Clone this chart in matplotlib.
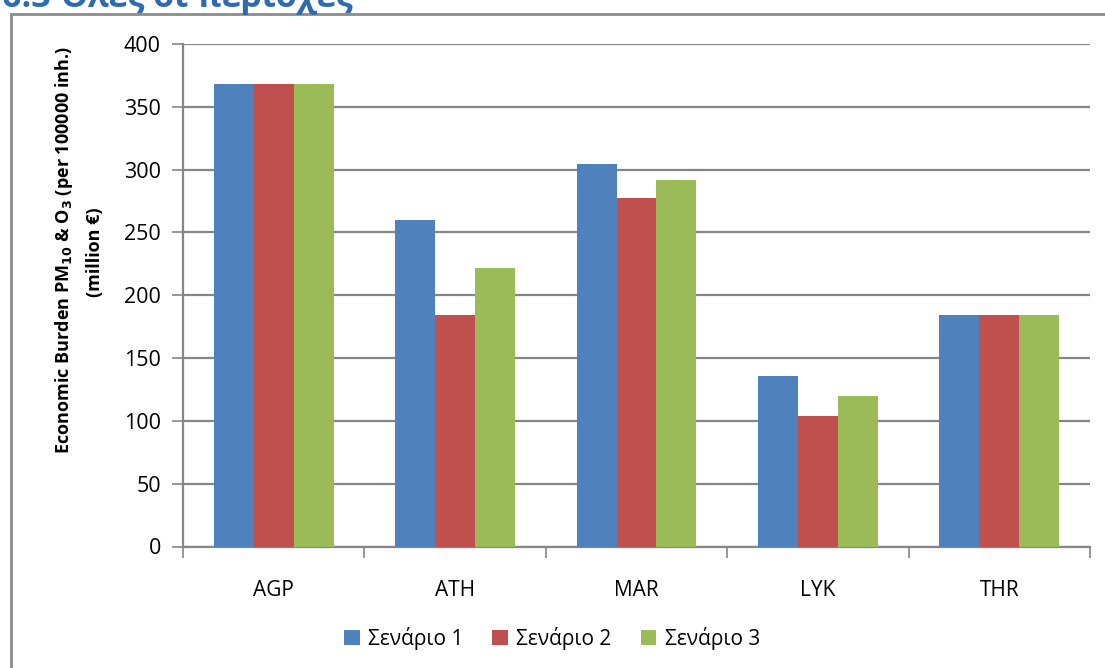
import matplotlib
matplotlib.use("Agg")
import matplotlib.pyplot as plt
from matplotlib.patches import Rectangle
import numpy as np

plt.rcParams['font.family'] = ['Open Sans', 'DejaVu Sans']

regions = ["AGP", "ATH", "MAR", "LYK", "THR"]
scenario_names = ["Σενάριο 1", "Σενάριο 2", "Σενάριο 3"]
scenario_1 = [368, 260, 304.5, 136, 184]
scenario_2 = [368, 184, 277.5, 104, 184]
scenario_3 = [368, 222, 292, 120, 184]
colors = ["#4F81BD", "#C0504D", "#9BBB59"]
y_ticks = [0, 50, 100, 150, 200, 250, 300, 350, 400]

W, H = 1105, 668
fig = plt.figure(figsize=(W / 100, H / 100), dpi=100)
fig.patch.set_facecolor("white")

# section heading, partly clipped at the top edge
fig.text(2 / W, 1 - 7 / H, "6.3 Όλες οι περιοχές", color="#2F6BAE",
         fontsize=24.5, fontweight="bold", ha="left", va="baseline")

# chart frame (runs off the right and bottom edges)
fig.patches.append(Rectangle((11 / W, -0.05), 1.2, 1 - 14 / H + 0.05,
                             transform=fig.transFigure, fill=False,
                             edgecolor="#8C8C8C", linewidth=2, zorder=0))

ax = fig.add_axes([183 / W, (H - 546.5) / H, (1090 - 183) / W, 502.5 / H])

x = np.arange(len(regions))
width = 0.22
series = [scenario_1, scenario_2, scenario_3]
for i, (vals, name, c) in enumerate(zip(series, scenario_names, colors)):
    ax.bar(x + (i - 1) * width, vals, width, color=c, label=name, zorder=3,
           linewidth=0)

ax.set_xlim(-0.5, len(regions) - 0.5)
ax.set_ylim(0, 400)
ax.set_yticks(y_ticks)
ax.set_xticks(x)
ax.set_xticklabels(regions)
ax.set_xticks(np.arange(-0.5, len(regions)), minor=True)

ax.yaxis.grid(True, color="#868686", linewidth=1.6, zorder=0)
ax.set_axisbelow(True)
for s in ["top", "right"]:
    ax.spines[s].set_visible(False)
for s in ["left", "bottom"]:
    ax.spines[s].set_color("#868686")
    ax.spines[s].set_linewidth(1.6)

ax.tick_params(axis="y", length=8, width=1.2, color="#868686",
               labelsize=15.5, pad=8, direction="out")
ax.tick_params(axis="x", which="major", length=0, labelsize=15, pad=24)
ax.tick_params(axis="x", which="minor", length=8, width=1.2,
               color="#868686", direction="out")

fig.text(64 / W, 1 - 250 / H,
         "Economic Burden PM$_{\\mathbf{10}}$ & O$_{\\mathbf{3}}$ (per 100000 inh.)",
         rotation=90, ha="center", va="center", fontsize=13,
         fontweight="bold")
fig.text(95 / W, 1 - 252 / H, "(million €)", rotation=90, ha="center",
         va="center", fontsize=13, fontweight="bold")

fig.legend(loc="center", bbox_to_anchor=(552 / W, 1 - 638 / H), ncol=3,
           frameon=False, fontsize=15, handlelength=0.75, handleheight=0.75,
           handletextpad=0.4, columnspacing=1.4)

fig.savefig("out.png", dpi=100, facecolor="white")
